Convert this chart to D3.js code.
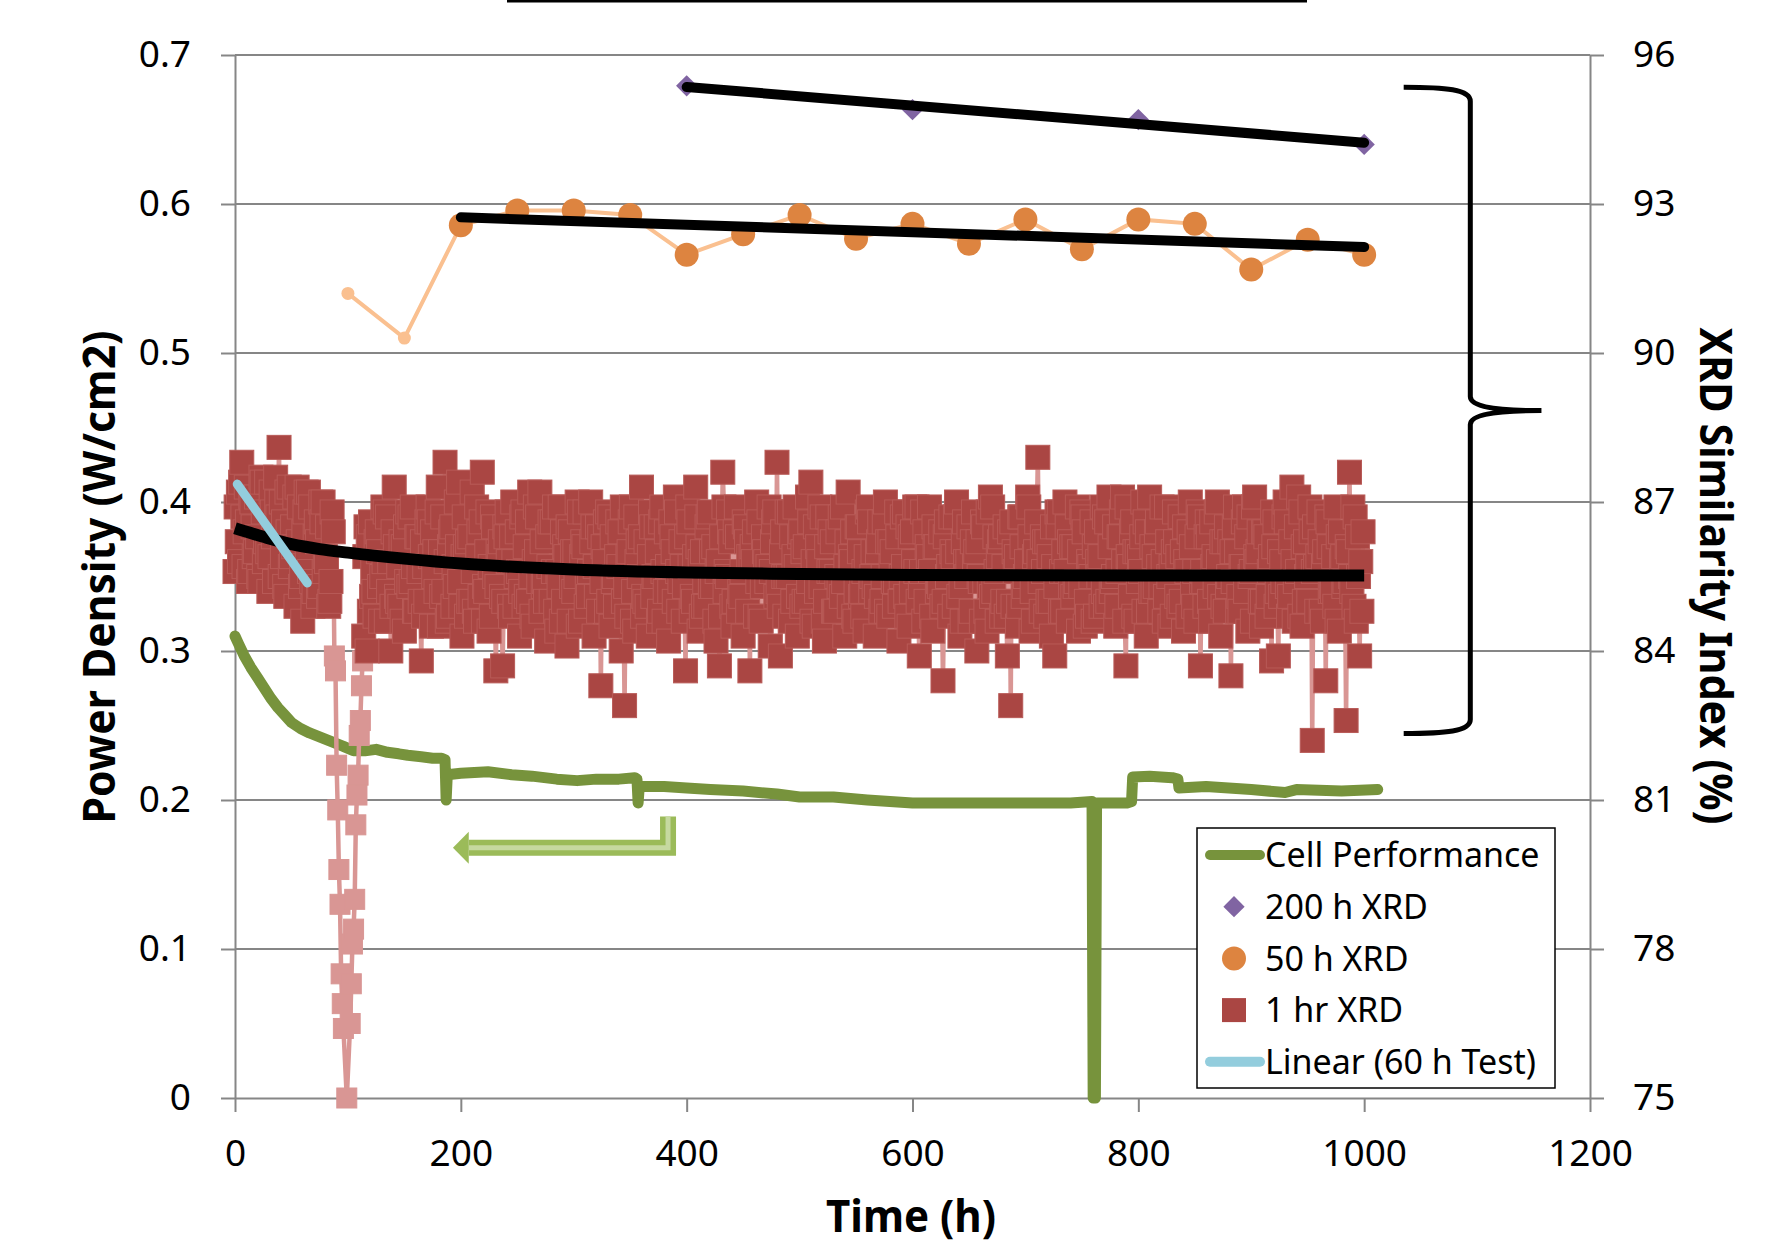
<!DOCTYPE html>
<html>
<head>
<meta charset="utf-8">
<script src="https://cdn.jsdelivr.net/npm/d3@7"></script>
<style>
  body { margin: 0; background: #fff; }
  text { font-family: "Noto Sans", "Open Sans", sans-serif; }
</style>
</head>
<body>
<svg id="chart"></svg>
<script>
const w = 1790, h = 1246;

// axis ticks
const timeTicks = [0, 200, 400, 600, 800, 1000, 1200];
const powerTicks = [0, 0.1, 0.2, 0.3, 0.4, 0.5, 0.6, 0.7];
const xrdTicks = [75, 78, 81, 84, 87, 90, 93, 96];

// Cell Performance (W/cm2, left axis)
const cellT = [0, 3, 8, 14, 20, 26, 32, 38, 44, 50, 58, 66, 76, 86, 96, 105, 115, 125, 135, 145,
  153, 165, 175, 183, 186, 187, 188, 200, 224, 245, 263, 285, 303, 320, 340, 354, 356, 357, 358, 380,
  400, 421, 450, 480, 500, 530, 560, 600, 650, 700, 740, 759, 760, 762, 763, 770, 790, 794, 795, 810,
  830, 835, 836, 860, 900, 930, 940, 980, 1012];
const cellV = [0.310, 0.305, 0.297, 0.289, 0.282, 0.275, 0.268, 0.262, 0.257, 0.252, 0.248, 0.245, 0.242, 0.239, 0.236, 0.233, 0.233, 0.234, 0.232, 0.231,
  0.230, 0.229, 0.228, 0.228, 0.227, 0.200, 0.217, 0.218, 0.219, 0.217, 0.216, 0.214, 0.213, 0.214, 0.214, 0.215, 0.214, 0.198, 0.209, 0.209,
  0.208, 0.207, 0.206, 0.204, 0.202, 0.202, 0.200, 0.198, 0.198, 0.198, 0.198, 0.199, 0.000, 0.000, 0.198, 0.198, 0.198, 0.199, 0.2155, 0.216,
  0.215, 0.214, 0.208, 0.209, 0.207, 0.205, 0.207, 0.206, 0.207];

// 200 h XRD (%, right axis)
const xrd200T = [400, 600, 800, 1000];
const xrd200V = [95.38, 94.9, 94.7, 94.2];

// 50 h XRD (%, right axis); first two are the early light points
const xrd50EarlyT = [100, 150];
const xrd50EarlyV = [91.2, 90.3];
const xrd50T = [200, 250, 300, 350, 400, 450, 500, 550, 600, 650, 700, 750, 800, 850, 900, 950, 1000];
const xrd50V = [92.57, 92.87, 92.87, 92.78, 91.98, 92.39, 92.78, 92.3, 92.6, 92.2, 92.69, 92.09, 92.69, 92.6, 91.68, 92.28, 91.98];

// 1 hr XRD (%, right axis): three interleaved runs, each every 3 h
const hourStep = 3;
const xrd1hEarlyA = [ // t = 0, 3, ... 87
  85.6, 87.2, 87.8, 86.4, 85.4, 87.0, 86.0, 85.5, 87.4, 86.2,
  85.2, 86.8, 87.5, 88.1, 85.9, 85.1, 87.3, 86.5, 84.9, 86.9,
  84.6, 87.2, 85.6, 84.9, 86.6, 85.3, 87.0, 85.8, 85.0, 86.4];
const xrd1hEarlyB = [ // t = 1, 4, ... 85
  86.9, 85.8, 86.7, 87.3, 85.6, 86.5, 87.1, 85.4, 86.8, 87.4,
  85.9, 86.3, 87.0, 85.5, 86.6, 87.2, 85.7, 86.1, 87.3, 85.3,
  86.4, 85.8, 86.9, 85.2, 86.2, 87.0, 85.6, 86.5, 85.4];
const xrd1hEarlyC = [ // t = 2, 5, ... 86
  86.2, 87.4, 85.7, 86.6, 87.1, 85.9, 86.3, 87.5, 85.8, 86.0,
  87.2, 85.4, 86.7, 87.0, 85.3, 86.4, 85.9, 87.1, 86.2, 85.5,
  86.8, 87.2, 85.4, 86.3, 85.1, 86.6, 85.9, 84.9, 86.8];
// the drop-out around 100 h
const xrd1hDipT = [88, 89, 90, 91, 92, 93, 94, 95, 96, 99, 102, 103, 104, 105, 106, 107, 108, 109, 110, 111, 112, 113];
const xrd1hDipV = [83.9, 83.6, 81.7, 80.8, 79.6, 78.9, 77.5, 76.9, 76.4, 75.0, 76.5, 77.3, 78.1, 78.4, 79.0, 80.5, 81.1, 81.5, 82.3, 82.6, 83.3, 83.8];
const xrd1hLateA = [ // t = 114, 117, ... 999
  84.3, 84.0, 86.6, 85.2, 86.4, 84.6, 85.8, 86.7, 84.0, 87.3,
  85.0, 86.2, 84.4, 86.8, 85.4, 84.8, 86.3, 83.8, 85.7, 86.9,
  84.5, 86.0, 87.3, 85.1, 87.8, 84.7, 86.5, 85.3, 87.4, 84.3,
  86.1, 85.0, 87.2, 84.6, 86.4, 87.6, 85.2, 84.4, 86.7, 83.6,
  85.9, 83.7, 86.3, 84.9, 87.0, 85.5, 84.3, 86.8, 85.1, 87.2,
  84.5, 86.0, 87.2, 85.3, 84.2, 86.6, 85.6, 84.4, 86.9, 85.0,
  84.1, 86.4, 85.2, 87.0, 84.6, 86.1, 85.4, 87.0, 84.3, 86.5,
  83.3, 85.8, 86.8, 84.5, 85.5, 86.6, 84.0, 82.9, 85.9, 86.9,
  84.4, 86.2, 87.3, 85.0, 84.3, 86.5, 85.5, 84.6, 86.9, 85.2,
  84.2, 86.3, 87.1, 84.8, 85.7, 83.6, 86.6, 85.1, 87.3, 84.4,
  86.0, 84.9, 86.8, 85.3, 84.2, 83.7, 87.6, 85.6, 86.4, 84.5,
  86.9, 85.2, 84.3, 86.2, 83.6, 85.8, 87.0, 84.7, 86.3, 85.4,
  84.1, 86.6, 87.8, 83.9, 85.5, 86.8, 84.6, 85.9, 84.3, 86.4,
  85.0, 87.1, 87.4, 84.5, 86.1, 85.3, 84.2, 86.7, 85.6, 84.8,
  86.4, 85.1, 84.3, 87.2, 85.8, 84.6, 86.5, 85.2, 84.4, 86.9,
  85.5, 84.3, 86.2, 85.0, 87.0, 84.7, 86.0, 85.4, 84.2, 86.7,
  85.1, 84.5, 86.4, 85.6, 83.9, 86.8, 85.0, 86.9, 84.4, 86.1,
  85.3, 83.4, 86.6, 84.7, 85.9, 87.0, 84.3, 86.2, 85.5, 84.6,
  86.8, 84.0, 85.4, 86.5, 84.4, 87.1, 85.2, 84.6, 86.3, 85.7,
  83.9, 82.9, 86.0, 84.5, 86.7, 85.3, 87.1, 84.4, 85.9, 87.9,
  84.8, 86.2, 85.0, 84.3, 83.9, 86.5, 85.6, 87.0, 84.6, 86.1,
  85.3, 84.4, 86.8, 84.5, 85.8, 86.6, 84.7, 85.5, 86.9, 84.9,
  87.1, 85.4, 84.5, 86.3, 87.1, 83.7, 85.7, 86.6, 84.6, 85.9,
  87.0, 84.3, 87.1, 85.2, 86.4, 84.8, 85.8, 86.9, 84.5, 86.0,
  85.1, 86.7, 84.4, 85.6, 87.0, 84.9, 86.3, 83.7, 85.4, 86.6,
  84.6, 85.9, 87.0, 84.3, 86.2, 85.3, 83.5, 86.5, 84.8, 85.7,
  86.9, 84.4, 85.6, 87.1, 86.0, 84.5, 86.4, 85.1, 83.8, 86.6,
  83.9, 85.8, 87.0, 84.7, 87.3, 85.4, 87.1, 84.5, 86.2, 85.0,
  82.2, 85.7, 86.8, 84.6, 83.4, 86.1, 85.2, 86.9, 84.4, 85.9,
  82.6, 87.6, 86.9, 84.6, 83.9, 86.4];
const xrd1hLateB = [ // t = 115, 118, ... 997
  85.9, 86.3, 85.1, 84.7, 86.0, 85.5, 86.8, 85.2, 84.9, 86.1,
  85.7, 84.6, 86.5, 85.3, 86.9, 84.8, 85.6, 86.2, 85.0, 86.6,
  86.4, 85.2, 84.5, 86.7, 85.8, 86.1, 84.9, 87.0, 85.4, 85.9,
  84.7, 86.3, 85.6, 86.9, 85.1, 84.6, 86.0, 85.7, 86.5, 85.3,
  86.2, 85.0, 86.8, 84.7, 85.8, 86.4, 85.2, 84.9, 86.6, 85.5,
  85.8, 86.7, 84.8, 85.4, 86.3, 85.0, 86.9, 85.6, 84.6, 86.1,
  86.5, 85.3, 86.0, 84.5, 85.9, 86.8, 85.1, 86.2, 85.7, 84.8,
  85.4, 86.6, 85.0, 86.3, 84.9, 85.7, 86.9, 85.3, 86.0, 84.6,
  86.7, 85.5, 84.7, 86.2, 85.9, 85.1, 86.5, 84.8, 85.6, 86.4,
  85.2, 86.0, 86.8, 85.4, 84.6, 86.3, 85.7, 85.0, 86.7, 85.8,
  84.9, 86.5, 85.3, 86.1, 85.6, 84.7, 86.9, 85.5, 86.2, 85.0,
  86.3, 85.1, 86.6, 84.8, 85.9, 86.4, 85.4, 84.6, 86.0, 85.7,
  85.6, 86.8, 85.2, 86.0, 84.7, 85.5, 86.3, 86.9, 85.1, 84.9,
  86.1, 85.4, 84.6, 86.5, 85.8, 86.7, 85.0, 85.6, 86.2, 84.8,
  85.3, 86.9, 85.7, 84.9, 86.4, 85.2, 86.0, 84.7, 85.9, 86.6,
  86.0, 85.1, 86.6, 85.5, 84.8, 86.2, 85.4, 86.8, 85.0, 85.7,
  84.7, 86.3, 85.8, 86.9, 85.3, 84.6, 86.1, 85.6, 86.5, 85.2,
  86.4, 85.0, 85.5, 86.7, 84.9, 86.0, 85.3, 86.6, 85.8, 84.8,
  85.7, 86.2, 84.6, 85.4, 86.8, 85.1, 86.3, 85.9, 84.7, 86.5,
  85.0, 86.6, 85.6, 84.9, 86.1, 85.5, 86.9, 85.2, 86.0, 85.8,
  86.3, 84.7, 85.9, 86.5, 85.3, 86.8, 84.8, 85.6, 86.2, 85.1,
  85.4, 86.0, 86.7, 85.0, 85.7, 84.6, 86.4, 85.9, 85.2, 86.6,
  86.1, 85.5, 84.9, 86.3, 85.8, 86.9, 85.1, 84.7, 86.0, 85.6,
  84.8, 86.4, 85.2, 85.9, 86.6, 85.3, 84.6, 86.2, 85.7, 86.8,
  85.9, 85.0, 86.5, 84.7, 86.1, 85.6, 86.8, 85.4, 84.9, 86.3,
  86.6, 85.3, 85.8, 86.2, 84.8, 85.5, 86.0, 86.9, 85.1, 85.7,
  85.2, 86.7, 84.6, 85.9, 86.4, 85.0, 86.3, 85.6, 86.8, 84.9,
  86.0, 85.4, 86.6, 85.1, 85.8, 86.5, 84.7, 86.1, 85.5, 86.9,
  85.6, 84.8, 86.2, 85.7, 86.7, 85.2, 85.9, 84.6, 86.4, 85.3,
  86.1, 85.5, 84.9, 86.3, 85.8];
const xrd1hLateC = [ // t = 116, 119, ... 998
  86.5, 84.8, 85.6, 86.2, 85.3, 86.9, 84.6, 85.8, 86.4, 85.1,
  84.9, 86.1, 85.4, 86.7, 85.7, 86.3, 85.0, 84.7, 86.6, 85.9,
  85.5, 86.8, 86.0, 85.2, 84.6, 86.4, 85.7, 86.1, 84.9, 86.7,
  86.2, 85.0, 84.8, 85.9, 86.6, 85.3, 86.8, 84.7, 85.5, 86.0,
  85.1, 86.5, 85.8, 86.3, 84.9, 85.6, 86.7, 86.1, 85.0, 84.7,
  86.9, 85.4, 86.2, 85.0, 85.7, 86.6, 84.8, 85.3, 86.4, 85.9,
  84.6, 86.0, 85.5, 86.8, 86.2, 84.9, 85.6, 86.5, 85.1, 86.3,
  86.1, 84.8, 86.7, 85.4, 85.9, 86.4, 85.0, 84.7, 86.6, 85.2,
  85.8, 86.3, 85.1, 84.9, 86.8, 85.5, 86.0, 86.6, 84.6, 85.7,
  86.6, 85.0, 85.6, 86.2, 85.3, 86.9, 84.8, 85.9, 86.1, 84.7,
  85.4, 86.7, 86.0, 84.6, 85.8, 86.3, 85.2, 86.8, 84.9, 86.4,
  84.8, 85.6, 86.5, 85.9, 86.1, 84.7, 86.6, 85.3, 85.8, 86.9,
  86.2, 85.1, 84.9, 86.4, 85.5, 86.8, 85.0, 85.7, 86.3, 86.0,
  85.0, 86.6, 85.8, 85.2, 86.9, 84.6, 86.1, 86.4, 84.8, 85.5,
  86.7, 85.4, 86.2, 85.9, 84.7, 86.5, 85.1, 85.6, 86.8, 85.2,
  85.3, 86.0, 84.8, 86.6, 86.2, 85.7, 84.9, 86.3, 85.5, 86.8,
  86.5, 85.2, 86.9, 85.0, 85.6, 86.4, 85.9, 84.7, 86.1, 85.4,
  84.9, 86.3, 85.7, 86.0, 86.7, 85.1, 84.6, 85.8, 86.5, 86.2,
  86.0, 85.5, 86.6, 84.8, 85.3, 86.9, 85.6, 86.2, 85.0, 84.7,
  86.4, 84.9, 85.9, 86.7, 85.1, 85.8, 86.3, 84.6, 86.6, 85.4,
  85.6, 86.2, 85.0, 85.7, 86.8, 84.8, 86.0, 86.5, 85.3, 86.1,
  86.9, 85.3, 86.4, 84.7, 85.5, 86.1, 85.8, 84.9, 86.7, 85.0,
  85.2, 86.5, 85.6, 86.8, 84.6, 85.9, 86.4, 86.0, 85.4, 86.3,
  86.6, 84.8, 86.1, 85.3, 85.7, 86.9, 85.1, 85.5, 84.7, 86.2,
  84.9, 86.0, 85.8, 86.4, 85.2, 84.6, 86.7, 85.6, 86.3, 85.0,
  85.7, 86.8, 85.1, 84.9, 86.5, 86.2, 85.4, 86.0, 84.8, 86.6,
  86.3, 85.5, 86.9, 85.8, 85.0, 86.4, 84.7, 85.9, 86.1, 85.2,
  85.1, 86.7, 85.3, 86.2, 84.6, 85.6, 86.8, 85.0, 85.7, 86.4,
  86.5, 85.9, 84.8, 86.0, 86.6, 85.3, 84.9, 86.3, 85.8, 85.4,
  86.0, 85.2, 86.7, 85.5, 84.8];

// trend of the 1 hr XRD points
const trend1hT = [0, 25, 50, 75, 100, 150, 200, 250, 300, 400, 500, 600, 800, 1000];
const trend1hV = [86.47, 86.30, 86.15, 86.05, 85.98, 85.86, 85.76, 85.69, 85.64, 85.58, 85.55, 85.53, 85.52, 85.52];

// Linear (60 h Test)
const test60T = [2, 64];
const test60V = [87.36, 85.37];

// ---------- layout ----------
const plotLeft = 235, plotRight = 1590, plotTop = 55, plotBottom = 1098;
const gridColor = "#868686";
const fontFamily = '"Noto Sans", "Open Sans", sans-serif';

const x = d3.scaleLinear().domain([0, 1200]).range([plotLeft, plotRight]);
const yPow = d3.scaleLinear().domain([0, 0.7]).range([plotBottom, plotTop]);
const yXrd = d3.scaleLinear().domain([75, 96]).range([plotBottom, plotTop]);

const svg = d3.select("#chart")
    .attr("width", w)
    .attr("height", h);

svg.append("rect").attr("width", w).attr("height", h).attr("fill", "#fff");

// underline of the cropped title
svg.append("line")
    .attr("x1", 507).attr("x2", 1307)
    .attr("y1", 1).attr("y2", 1)
    .attr("stroke", "#000").attr("stroke-width", 3);

// horizontal gridlines
svg.append("g").selectAll("line")
    .data(powerTicks.filter(d => d > 0))
    .join("line")
    .attr("x1", plotLeft).attr("x2", plotRight)
    .attr("y1", d => yPow(d)).attr("y2", d => yPow(d))
    .attr("stroke", gridColor).attr("stroke-width", 2);

function styleAxis(g) {
    g.attr("font-family", null).attr("font-size", null);
    g.selectAll("path, line").attr("stroke", gridColor).attr("stroke-width", 2);
    g.selectAll("text").attr("fill", "#000").attr("font-size", 37).attr("font-family", fontFamily);
}

svg.append("g")
    .attr("transform", "translate(0," + plotBottom + ")")
    .call(d3.axisBottom(x).tickValues(timeTicks).tickSize(14).tickSizeOuter(0).tickPadding(28)
        .tickFormat(d3.format("d")))
    .call(styleAxis);

svg.append("g")
    .attr("transform", "translate(" + plotLeft + ",0)")
    .call(d3.axisLeft(yPow).tickValues(powerTicks).tickSize(14).tickSizeOuter(0).tickPadding(30)
        .tickFormat(d => d === 0 ? "0" : d3.format(".1f")(d)))
    .call(styleAxis);

svg.append("g")
    .attr("transform", "translate(" + plotRight + ",0)")
    .call(d3.axisRight(yXrd).tickValues(xrdTicks).tickSize(14).tickSizeOuter(0).tickPadding(29))
    .call(styleAxis);

// green arrow pointing to the left axis
const arrowTipT = 193, arrowBaseT = 207, arrowCornerT = 383.5, arrowShaftV = 0.168, arrowTopV = 0.189;
const arrowPath = d3.path();
arrowPath.moveTo(x(arrowCornerT), yPow(arrowTopV));
arrowPath.lineTo(x(arrowCornerT), yPow(arrowShaftV));
arrowPath.lineTo(x(arrowBaseT), yPow(arrowShaftV));
svg.append("path").attr("d", arrowPath.toString())
    .attr("fill", "none").attr("stroke", "#9bbb59").attr("stroke-width", 16);
svg.append("path").attr("d", arrowPath.toString())
    .attr("fill", "none").attr("stroke", "#c6d9a0").attr("stroke-width", 5);
svg.append("path")
    .attr("d", "M" + x(arrowTipT) + "," + yPow(arrowShaftV) +
        "L" + x(arrowBaseT) + "," + (yPow(arrowShaftV) - 16) +
        "L" + x(arrowBaseT) + "," + (yPow(arrowShaftV) + 16) + "Z")
    .attr("fill", "#9bbb59");

// brace grouping the XRD series
const braceArmT = 1035, braceStemT = 1094, bracePointT = 1157;
const braceTopV = 95.35, braceMidV = 88.84, braceBotV = 82.34;
{
    const x0 = x(braceArmT), x1 = x(braceStemT), xp = x(bracePointT);
    const yt = yXrd(braceTopV), ym = yXrd(braceMidV), yb = yXrd(braceBotV);
    const p = d3.path();
    p.moveTo(x0, yt);
    p.bezierCurveTo(x1 - 25, yt, x1, yt + 2, x1, yt + 14);
    p.lineTo(x1, ym - 14);
    p.bezierCurveTo(x1, ym - 4, x1 + 25, ym, xp, ym);
    p.bezierCurveTo(x1 + 25, ym, x1, ym + 4, x1, ym + 14);
    p.lineTo(x1, yb - 14);
    p.bezierCurveTo(x1, yb - 2, x1 - 25, yb, x0, yb);
    svg.append("path").attr("d", p.toString())
        .attr("fill", "none").attr("stroke", "#000").attr("stroke-width", 5);
}

// Cell Performance line
const cellLine = d3.line()
    .x((d, i) => x(cellT[i]))
    .y(d => yPow(d));
svg.append("path")
    .datum(cellV)
    .attr("fill", "none")
    .attr("stroke", "#77933c")
    .attr("stroke-width", 11)
    .attr("stroke-linejoin", "round")
    .attr("stroke-linecap", "round")
    .attr("d", cellLine);

// 1 hr XRD
function run(values, start, dip) {
    return values.map((v, i) => ({ t: start + i * hourStep, v: v, dip: dip }));
}
const xrd1h = []
    .concat(run(xrd1hEarlyA, 0, false), run(xrd1hEarlyB, 1, false), run(xrd1hEarlyC, 2, false))
    .concat(xrd1hDipV.map((v, i) => ({ t: xrd1hDipT[i], v: v, dip: true })))
    .concat(run(xrd1hLateA, 114, false), run(xrd1hLateB, 115, false), run(xrd1hLateC, 116, false))
    .sort((a, b) => a.t - b.t);

const xrdLine = d3.line()
    .x(d => x(d.t))
    .y(d => yXrd(d.v));

svg.append("path")
    .datum(xrd1h)
    .attr("fill", "none")
    .attr("stroke", "#d99694")
    .attr("stroke-width", 4.5)
    .attr("stroke-linejoin", "round")
    .attr("d", xrdLine);

svg.append("g").selectAll("rect")
    .data(xrd1h)
    .join("rect")
    .attr("x", d => x(d.t) - (d.dip ? 10 : 12))
    .attr("y", d => yXrd(d.v) - (d.dip ? 10 : 12))
    .attr("width", d => d.dip ? 20 : 24)
    .attr("height", d => d.dip ? 20 : 24)
    .attr("fill", d => d.dip ? "#d99694" : "#aa4643")
    .attr("stroke", d => d.dip ? "#d99694" : "#b85a57")
    .attr("stroke-width", 1);

// 50 h XRD
const xrd50All = xrd50EarlyT.map((t, i) => ({ t: t, v: xrd50EarlyV[i] }))
    .concat(xrd50T.map((t, i) => ({ t: t, v: xrd50V[i] })));
svg.append("path")
    .datum(xrd50All)
    .attr("fill", "none")
    .attr("stroke", "#fac090")
    .attr("stroke-width", 4)
    .attr("d", xrdLine);
svg.append("g").selectAll("circle")
    .data(xrd50EarlyT)
    .join("circle")
    .attr("cx", d => x(d))
    .attr("cy", (d, i) => yXrd(xrd50EarlyV[i]))
    .attr("r", 6.5)
    .attr("fill", "#fac090");
svg.append("g").selectAll("circle")
    .data(xrd50T)
    .join("circle")
    .attr("cx", d => x(d))
    .attr("cy", (d, i) => yXrd(xrd50V[i]))
    .attr("r", 12)
    .attr("fill", "#dd8440");

// 200 h XRD
const diamond = d3.symbol().type(d3.symbolDiamond2).size(288);
svg.append("g").selectAll("path")
    .data(xrd200T)
    .join("path")
    .attr("transform", (d, i) => "translate(" + x(d) + "," + yXrd(xrd200V[i]) + ")")
    .attr("d", diamond)
    .attr("fill", "#8064a2");

// linear trends of the 200 h and 50 h points
function linearFit(ts, vs) {
    const mt = d3.mean(ts), mv = d3.mean(vs);
    const slope = d3.sum(ts, (t, i) => (t - mt) * (vs[i] - mv)) / d3.sum(ts, t => (t - mt) * (t - mt));
    return t => mv + slope * (t - mt);
}
function drawFit(ts, vs, width) {
    const f = linearFit(ts, vs);
    const ends = d3.extent(ts);
    svg.append("line")
        .attr("x1", x(ends[0])).attr("y1", yXrd(f(ends[0])))
        .attr("x2", x(ends[1])).attr("y2", yXrd(f(ends[1])))
        .attr("stroke", "#000")
        .attr("stroke-width", width)
        .attr("stroke-linecap", "round");
}
drawFit(xrd200T, xrd200V, 10);
drawFit(xrd50T, xrd50V, 10);

// trend of 1 hr XRD
svg.append("path")
    .datum(trend1hV)
    .attr("fill", "none")
    .attr("stroke", "#000")
    .attr("stroke-width", 12)
    .attr("d", d3.line().x((d, i) => x(trend1hT[i])).y(d => yXrd(d)).curve(d3.curveMonotoneX));

// Linear (60 h Test)
svg.append("path")
    .datum(test60V)
    .attr("fill", "none")
    .attr("stroke", "#93cddd")
    .attr("stroke-width", 9)
    .attr("stroke-linecap", "round")
    .attr("d", d3.line().x((d, i) => x(test60T[i])).y(d => yXrd(d)));

// legend
const legendItems = ["Cell Performance", "200 h XRD", "50 h XRD", "1 hr XRD", "Linear (60 h Test)"];
const legend = svg.append("g");
legend.append("rect")
    .attr("x", 1197).attr("y", 828)
    .attr("width", 358).attr("height", 260)
    .attr("fill", "#fff").attr("stroke", "#000").attr("stroke-width", 1.5);
const rowY = i => 855 + i * 51.7;
legend.selectAll("text")
    .data(legendItems)
    .join("text")
    .attr("x", 1265)
    .attr("y", (d, i) => rowY(i))
    .attr("dy", "0.36em")
    .attr("font-size", 34)
    .attr("fill", "#000")
    .text(d => d);
legend.append("line")
    .attr("x1", 1210).attr("x2", 1260).attr("y1", rowY(0)).attr("y2", rowY(0))
    .attr("stroke", "#77933c").attr("stroke-width", 10).attr("stroke-linecap", "round");
legend.append("path")
    .attr("transform", "translate(1234," + rowY(1) + ")")
    .attr("d", diamond)
    .attr("fill", "#8064a2");
legend.append("circle")
    .attr("cx", 1234).attr("cy", rowY(2)).attr("r", 12)
    .attr("fill", "#dd8440");
legend.append("rect")
    .attr("x", 1222).attr("y", rowY(3) - 12).attr("width", 24).attr("height", 24)
    .attr("fill", "#aa4643");
legend.append("line")
    .attr("x1", 1210).attr("x2", 1260).attr("y1", rowY(4)).attr("y2", rowY(4))
    .attr("stroke", "#93cddd").attr("stroke-width", 10).attr("stroke-linecap", "round");

// axis titles
svg.append("text")
    .attr("x", 911).attr("y", 1232)
    .attr("text-anchor", "middle")
    .attr("font-size", 44).attr("font-weight", "bold")
    .attr("textLength", 170).attr("lengthAdjust", "spacingAndGlyphs")
    .text("Time (h)");

svg.append("text")
    .attr("transform", "translate(100,577) rotate(-90)")
    .attr("text-anchor", "middle")
    .attr("dy", "0.35em")
    .attr("font-size", 44).attr("font-weight", "bold")
    .attr("textLength", 493).attr("lengthAdjust", "spacingAndGlyphs")
    .text("Power Density (W/cm2)");

svg.append("text")
    .attr("transform", "translate(1715,576) rotate(90)")
    .attr("text-anchor", "middle")
    .attr("dy", "0.35em")
    .attr("font-size", 44).attr("font-weight", "bold")
    .attr("textLength", 497).attr("lengthAdjust", "spacingAndGlyphs")
    .text("XRD Similarity Index (%)");
</script>
</body>
</html>
